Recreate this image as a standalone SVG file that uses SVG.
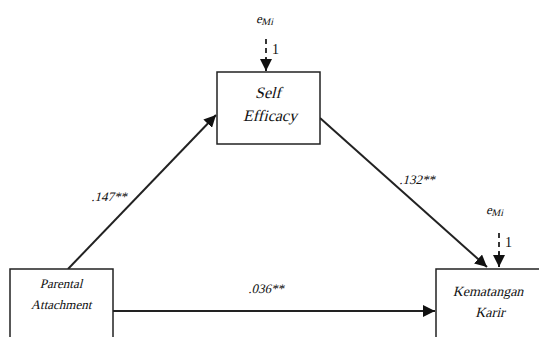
<svg xmlns="http://www.w3.org/2000/svg" width="539" height="337" viewBox="0 0 539 337">
<style>
.box{fill:#fff;stroke:#222;stroke-width:1.5}
.t{font-family:'Liberation Serif','Times New Roman',serif;fill:#111;text-anchor:middle}
.ln{stroke:#222;stroke-width:2;fill:none}
.dash{stroke:#222;stroke-width:1.8;fill:none;stroke-dasharray:5,4}
.lab{font-family:'Liberation Serif','Times New Roman',serif;fill:#111;font-size:13px}
.one{font-family:'Liberation Serif','Times New Roman',serif;fill:#111;font-size:14px}
</style>
<defs>
<marker id="ah" viewBox="0 0 10 10" refX="10" refY="5" markerWidth="6" markerHeight="6" orient="auto" markerUnits="strokeWidth">
<path d="M0,0 L10,5 L0,10 z" fill="#111"/>
</marker>
</defs>
<rect width="539" height="337" fill="#fff"/>
<g id="connectors">
<line class="ln" x1="68" y1="269" x2="216" y2="115" marker-end="url(#ah)"/>
<line class="ln" x1="320" y1="118" x2="487" y2="267" marker-end="url(#ah)"/>
<line class="ln" x1="113" y1="311" x2="435" y2="311" marker-end="url(#ah)"/>
<line class="dash" x1="266" y1="39" x2="266" y2="60"/>
<line class="ln" x1="266" y1="58" x2="266" y2="71" marker-end="url(#ah)"/>
<line class="dash" x1="499" y1="233" x2="499" y2="253"/>
<line class="ln" x1="499" y1="252" x2="499" y2="267" marker-end="url(#ah)"/>
<text class="lab" transform="translate(109,201) skewX(-14)" text-anchor="middle">.147**</text>
<text class="lab" transform="translate(417,184) skewX(-14)" text-anchor="middle">.132**</text>
<text class="lab" transform="translate(266,293) skewX(-14)" text-anchor="middle">.036**</text>
<text class="one" x="272" y="54">1</text>
<text class="one" x="505" y="247">1</text>
<text class="lab" transform="translate(256,23) skewX(-14)" font-size="16">e<tspan font-size="10" dy="2">Mi</tspan></text>
<text class="lab" transform="translate(486,214) skewX(-14)" font-size="16">e<tspan font-size="10" dy="2">Mi</tspan></text>
</g>
<g id="self-efficacy">
<rect class="box" x="217" y="72" width="103" height="72"/>
<text class="t" transform="translate(268,98) skewX(-14)" font-size="16">Self</text>
<text class="t" transform="translate(270,121) skewX(-14)" font-size="16">Efficacy</text>
</g>
<g id="parental-attachment">
<rect class="box" x="10" y="269" width="103" height="80"/>
<text class="t" transform="translate(61,288) skewX(-14)" font-size="13">Parental</text>
<text class="t" transform="translate(61,309) skewX(-14)" font-size="13">Attachment</text>
</g>
<g id="kematangan-karir">
<rect class="box" x="436" y="269" width="120" height="80"/>
<text class="t" transform="translate(488,296) skewX(-14)" font-size="14">Kematangan</text>
<text class="t" transform="translate(490,317) skewX(-14)" font-size="14">Karir</text>
</g>
</svg>
